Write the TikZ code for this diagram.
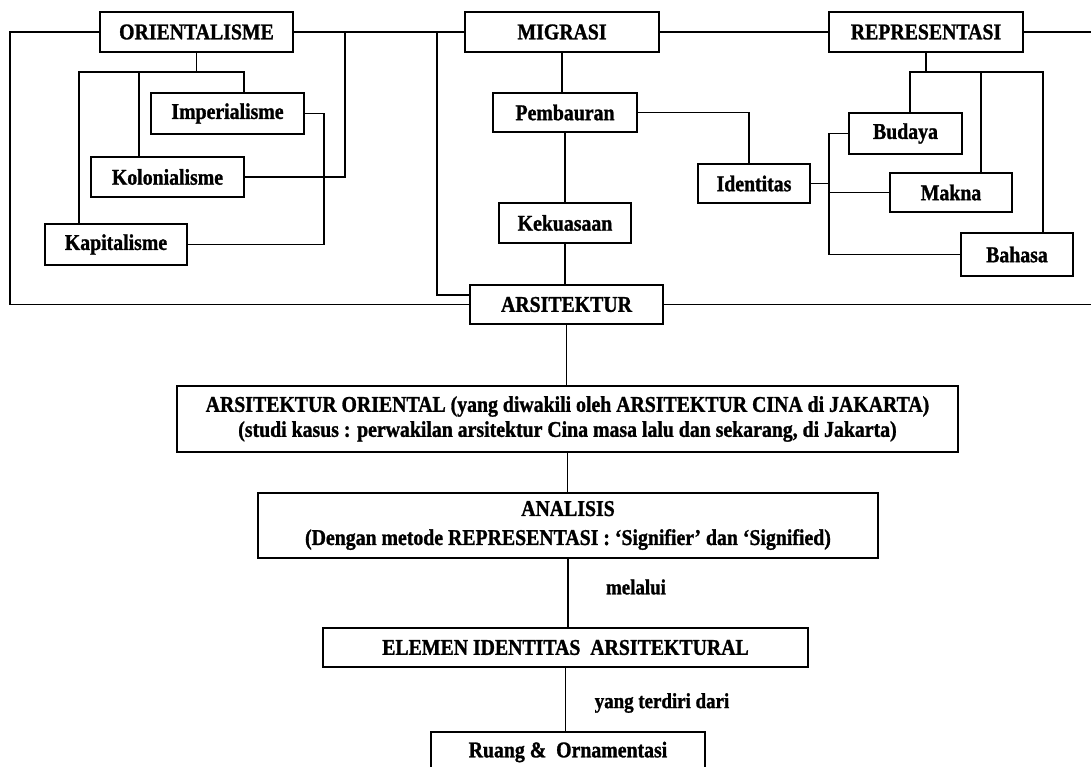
\documentclass[tikz,border=0pt]{standalone}
\usepackage{fontspec}
\setmainfont{Liberation Serif}[BoldFeatures={FakeBold=1.2, FakeStretch=0.88}]
\begin{document}
\begin{tikzpicture}[x=1pt,y=-1pt,
  box/.style={draw, line width=2.2pt, inner sep=0pt, align=center,
    font=\bfseries\fontsize{22.5}{25}\selectfont},
  link/.style={line width=1.4pt},
  lbl/.style={inner sep=0pt, font=\bfseries\fontsize{21.5}{22}\selectfont}]
\clip (0,0) rectangle (1091,767);
\fill[white] (0,0) rectangle (1091,767);

% top row
\node[box, minimum width=193pt, minimum height=40pt] (ori) at (196.5,32) {ORIENTALISME};
\node[box, minimum width=194pt, minimum height=40pt] (mig) at (562,32) {MIGRASI};
\node[box, minimum width=194pt, minimum height=40pt] (rep) at (926,32) {REPRESENTASI};

% orientalisme children
\node[box, minimum width=153pt, minimum height=41pt] (imp) at (227.5,113.5) {Imperialisme};
\node[box, minimum width=153pt, minimum height=40pt] (kol) at (167.5,177) {Kolonialisme};
\node[box, minimum width=142pt, minimum height=41pt] (kap) at (116,244.5) {Kapitalisme};

% migrasi children
\node[box, minimum width=144pt, minimum height=39pt] (pem) at (565,112.5) {Pembauran};
\node[box, minimum width=132pt, minimum height=40pt] (kek) at (565,223) {Kekuasaan};
\node[box, minimum width=112pt, minimum height=39pt] (ide) at (754,183.5) {Identitas};

% representasi children
\node[box, minimum width=113pt, minimum height=41pt] (bud) at (905.5,133.5) {Budaya};
\node[box, minimum width=122pt, minimum height=39pt] (mak) at (951,192.5) {Makna};
\node[box, minimum width=112pt, minimum height=43pt] (bah) at (1017,254.5) {Bahasa};

% central column
\node[box, minimum width=193pt, minimum height=39pt] (arsi) at (566.5,304.5) {ARSITEKTUR};
\node[box, minimum width=781pt, minimum height=66pt] (aor) at (567.5,419)
  {ARSITEKTUR ORIENTAL (yang diwakili oleh ARSITEKTUR CINA di JAKARTA)\\
   (studi kasus : perwakilan arsitektur Cina masa lalu dan sekarang, di Jakarta)};
\node[box, minimum width=620pt, minimum height=65pt,
  font=\bfseries\fontsize{22.5}{29}\selectfont] (ana) at (568,525.5)
  {ANALISIS\\(Dengan metode REPRESENTASI : ‘Signifier’ dan ‘Signified)};
\node[box, minimum width=485pt, minimum height=39pt] (ele) at (565.5,647.5)
  {ELEMEN IDENTITAS\ \ ARSITEKTURAL};
\node[box, minimum width=274pt, minimum height=40pt] (ru) at (568,752)
  {Ruang \&\ \ Ornamentasi};

\node[lbl] (mel) at (636,587) {melalui};
\node[lbl] (ytd) at (662,703) {yang terdiri dari};

% frame and top links
\coordinate (fL) at (10,32);
\draw[link] (ori.west) -- (fL) |- (arsi.west);
\draw[link] (ori.east) -- (mig.west);
\coordinate (kb) at (345,32);
\draw[link] (kb) |- (kol.east);
\coordinate (ab) at (437,32);
\draw[link] (ab) |- ([yshift=9.5pt]arsi.west);
\draw[link] (mig.east) -- (rep.west);
\coordinate (eR1) at (1091,32);
\draw[link] (rep.east) -- (eR1);
\coordinate (eR2) at (1091,304.5);
\draw[link] (arsi.east) -- (eR2);

% orientalisme branch
\coordinate (oL) at (79,72);
\coordinate (oK) at (139,72);
\coordinate (oR) at (244,72);
\draw[link] (ori.south) -- (ori.south |- oL);
\draw[link] (kap.north -| oL) -- (oL) -- (oR) -- (oR |- imp.north);
\draw[link] (oK) -- (oK |- kol.north);
\draw[link] (imp.east) -- ++(19,0) |- (kap.east);

% migrasi branch
\draw[link] (mig.south) -- (mig.south |- pem.north);
\draw[link] (pem.south) -- (pem.south |- kek.north);
\draw[link] (kek.south) -- (kek.south |- arsi.north);
\draw[link] (pem.east) -| ([xshift=-5pt]ide.north);

% representasi branch
\coordinate (rL) at (910,72);
\coordinate (rM) at (981,72);
\coordinate (rR) at (1043,72);
\draw[link] (rep.south) -- (rep.south |- rL);
\draw[link] (bud.north -| rL) -- (rL) -- (rR) -- (rR |- bah.north);
\draw[link] (rM) -- (rM |- mak.north);
\coordinate (iv) at (829,183.5);
\draw[link] (ide.east) -- (iv);
\draw[link] (bud.west) -| (iv) |- (bah.west);
\draw[link] (iv |- mak.west) -- (mak.west);

% central column links
\draw[link] (arsi.south) -- (arsi.south |- aor.north);
\draw[link] (aor.south) -- (aor.south |- ana.north);
\draw[link] (ana.south) -- (ana.south |- ele.north);
\draw[link] (ele.south) -- (ele.south |- ru.north);
\end{tikzpicture}
\end{document}
